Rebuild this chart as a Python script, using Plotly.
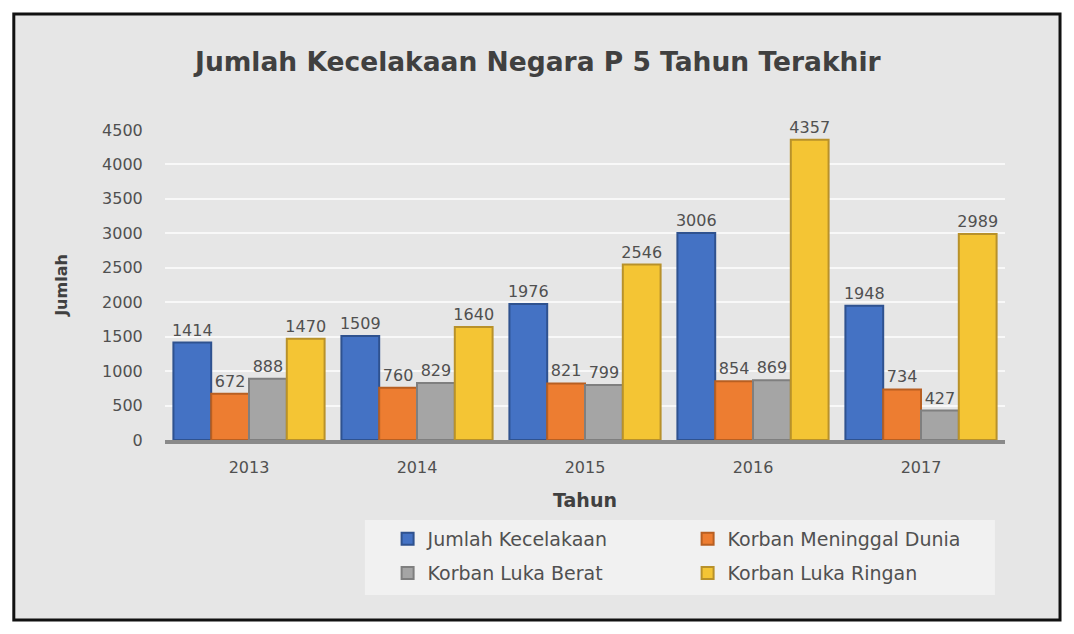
import plotly.graph_objs as go

# data
tahun = ['2013', '2014', '2015', '2016', '2017']
jumlah_kecelakaan = [1414, 1509, 1976, 3006, 1948]
meninggal_dunia = [672, 760, 821, 854, 734]
luka_berat = [888, 829, 799, 869, 427]
luka_ringan = [1470, 1640, 2546, 4357, 2989]

# name, values, fill, edge, which legend row
series = [
    ('Jumlah Kecelakaan', jumlah_kecelakaan, '#4472C4', '#2F528F', 'legend'),
    ('Korban Meninggal Dunia', meninggal_dunia, '#ED7D31', '#B85F22', 'legend'),
    ('Korban Luka Berat', luka_berat, '#A5A5A5', '#7F7F7F', 'legend2'),
    ('Korban Luka Ringan', luka_ringan, '#F4C534', '#B8912A', 'legend2'),
]

data = [
    go.Bar(
        x=tahun,
        y=vals,
        name=name,
        legend=leg,
        text=vals,
        textposition='outside',
        constraintext='none',
        textfont={'size': 16, 'color': '#505050'},
        cliponaxis=False,
        marker={'color': color, 'line': {'color': edge, 'width': 2}},
    )
    for name, vals, color, edge, leg in series
]

legend_style = {
    'orientation': 'h',
    'x': 0.265, 'xanchor': 'left',
    'yanchor': 'top',
    'bgcolor': 'rgba(0,0,0,0)',
    'font': {'size': 19, 'color': '#505050'},
    'entrywidth': 255,
    'itemwidth': 30,
}

# the page body adds an 8px offset, so the figure is 8px smaller each way
layout = go.Layout(
    width=1066,
    height=626,
    margin={'l': 157, 'r': 69, 't': 122, 'b': 194},
    paper_bgcolor='white',
    plot_bgcolor='rgba(0,0,0,0)',
    font={'family': 'DejaVu Sans', 'color': '#404040'},
    title={
        'text': '<b>Jumlah Kecelakaan Negara P 5 Tahun Terakhir</b>',
        'x': 0.497, 'xanchor': 'center', 'y': 0.914, 'yanchor': 'middle',
        'font': {'size': 26.5, 'color': '#404040'},
    },
    barmode='group',
    bargap=0.1,
    bargroupgap=0.0,
    xaxis={
        'title': {'text': '<b>Tahun</b>', 'font': {'size': 19}, 'standoff': 18},
        'tickfont': {'size': 16, 'color': '#505050'},
        'showline': True, 'linecolor': '#8a8a8a', 'linewidth': 4,
        'ticks': 'outside', 'ticklen': 10, 'tickcolor': 'rgba(0,0,0,0)',
    },
    yaxis={
        'title': {'text': '<b>Jumlah</b>', 'font': {'size': 16}, 'standoff': 30},
        'range': [0, 4500],
        'dtick': 500,
        'tickfont': {'size': 16, 'color': '#505050'},
        'ticks': 'outside', 'ticklen': 18, 'tickcolor': 'rgba(0,0,0,0)',
        'gridcolor': '#f8f8f8', 'gridwidth': 2,
        'zeroline': False,
    },
    legend=dict(legend_style, y=-0.258),
    legend2=dict(legend_style, y=-0.368),
    shapes=[
        {
            'type': 'rect', 'xref': 'paper', 'yref': 'paper', 'layer': 'below',
            'x0': -0.18, 'x1': 1.0655, 'y0': -0.581, 'y1': 1.374,
            'fillcolor': '#e6e6e6', 'line': {'color': '#111111', 'width': 3},
        },
        {
            'type': 'rect', 'xref': 'paper', 'yref': 'paper', 'layer': 'below',
            'x0': 0.238, 'x1': 0.988, 'y0': -0.5, 'y1': -0.258,
            'fillcolor': '#f1f1f1', 'line': {'width': 0},
        },
    ],
)

fig = go.Figure(data=data, layout=layout)
fig.write_html('out.html')
